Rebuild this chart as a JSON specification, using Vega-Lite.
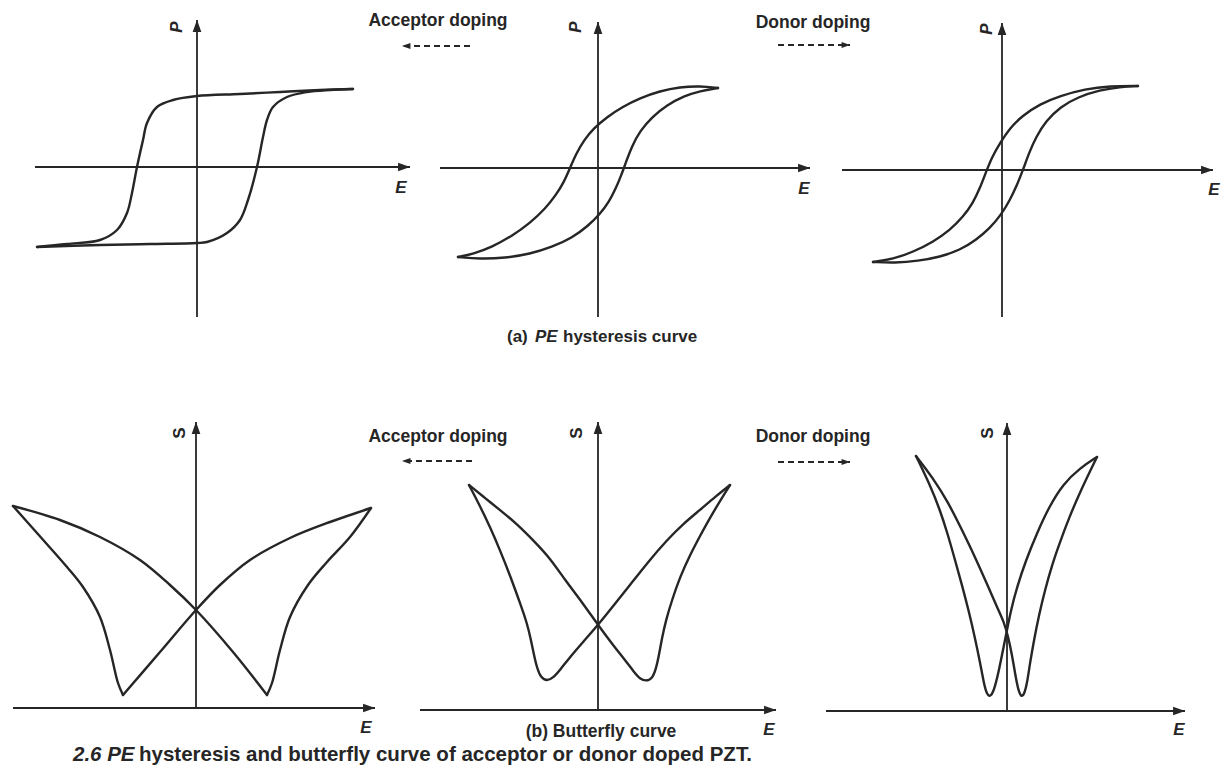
{
  "$schema": "https://vega.github.io/schema/vega-lite/v6.json",
  "width": 1225,
  "height": 775,
  "autosize": {"type": "fit", "contains": "padding"},
  "padding": 0,
  "background": "white",
  "config": {"view": {"stroke": null}},
  "datasets": {
    "curves": [
      {"series": "p1 upper", "i": 0, "x": 353, "y": 89}, {"series": "p1 upper", "i": 1, "x": 320, "y": 90}, {"series": "p1 upper", "i": 2, "x": 280, "y": 92}, {"series": "p1 upper", "i": 3, "x": 240, "y": 94}, {"series": "p1 upper", "i": 4, "x": 197, "y": 96}, {"series": "p1 upper", "i": 5, "x": 173, "y": 100}, {"series": "p1 upper", "i": 6, "x": 157, "y": 107}, {"series": "p1 upper", "i": 7, "x": 147, "y": 123}, {"series": "p1 upper", "i": 8, "x": 143, "y": 140}, {"series": "p1 upper", "i": 9, "x": 137, "y": 167}, {"series": "p1 upper", "i": 10, "x": 132, "y": 193}, {"series": "p1 upper", "i": 11, "x": 127, "y": 213}, {"series": "p1 upper", "i": 12, "x": 117, "y": 230}, {"series": "p1 upper", "i": 13, "x": 100, "y": 240}, {"series": "p1 upper", "i": 14, "x": 67, "y": 244}, {"series": "p1 upper", "i": 15, "x": 37, "y": 247},
      {"series": "p1 lower", "i": 0, "x": 37, "y": 247}, {"series": "p1 lower", "i": 1, "x": 100, "y": 245}, {"series": "p1 lower", "i": 2, "x": 150, "y": 244}, {"series": "p1 lower", "i": 3, "x": 197, "y": 243}, {"series": "p1 lower", "i": 4, "x": 207, "y": 242}, {"series": "p1 lower", "i": 5, "x": 227, "y": 233}, {"series": "p1 lower", "i": 6, "x": 240, "y": 220}, {"series": "p1 lower", "i": 7, "x": 248, "y": 200}, {"series": "p1 lower", "i": 8, "x": 257, "y": 167}, {"series": "p1 lower", "i": 9, "x": 263, "y": 137}, {"series": "p1 lower", "i": 10, "x": 267, "y": 120}, {"series": "p1 lower", "i": 11, "x": 273, "y": 107}, {"series": "p1 lower", "i": 12, "x": 287, "y": 97}, {"series": "p1 lower", "i": 13, "x": 307, "y": 92}, {"series": "p1 lower", "i": 14, "x": 330, "y": 90}, {"series": "p1 lower", "i": 15, "x": 353, "y": 89},
      {"series": "p4 a", "i": 0, "x": 13, "y": 506}, {"series": "p4 a", "i": 1, "x": 60, "y": 520}, {"series": "p4 a", "i": 2, "x": 100, "y": 537}, {"series": "p4 a", "i": 3, "x": 140, "y": 560}, {"series": "p4 a", "i": 4, "x": 170, "y": 585}, {"series": "p4 a", "i": 5, "x": 196, "y": 610}, {"series": "p4 a", "i": 6, "x": 233, "y": 652}, {"series": "p4 a", "i": 7, "x": 267, "y": 695},
      {"series": "p4 b", "i": 0, "x": 267, "y": 695}, {"series": "p4 b", "i": 1, "x": 272, "y": 683}, {"series": "p4 b", "i": 2, "x": 280, "y": 650}, {"series": "p4 b", "i": 3, "x": 290, "y": 617}, {"series": "p4 b", "i": 4, "x": 308, "y": 585}, {"series": "p4 b", "i": 5, "x": 327, "y": 562}, {"series": "p4 b", "i": 6, "x": 350, "y": 537}, {"series": "p4 b", "i": 7, "x": 371, "y": 508},
      {"series": "p4 c", "i": 0, "x": 371, "y": 508}, {"series": "p4 c", "i": 1, "x": 330, "y": 522}, {"series": "p4 c", "i": 2, "x": 290, "y": 538}, {"series": "p4 c", "i": 3, "x": 250, "y": 560}, {"series": "p4 c", "i": 4, "x": 220, "y": 585}, {"series": "p4 c", "i": 5, "x": 196, "y": 610}, {"series": "p4 c", "i": 6, "x": 160, "y": 652}, {"series": "p4 c", "i": 7, "x": 123, "y": 695},
      {"series": "p4 d", "i": 0, "x": 123, "y": 695}, {"series": "p4 d", "i": 1, "x": 118, "y": 683}, {"series": "p4 d", "i": 2, "x": 110, "y": 650}, {"series": "p4 d", "i": 3, "x": 100, "y": 617}, {"series": "p4 d", "i": 4, "x": 83, "y": 587}, {"series": "p4 d", "i": 5, "x": 67, "y": 567}, {"series": "p4 d", "i": 6, "x": 37, "y": 533}, {"series": "p4 d", "i": 7, "x": 13, "y": 506}
    ],
    "smoothCurves": [
      {"series": "p2 upper", "i": 0, "x": 718, "y": 88}, {"series": "p2 upper", "i": 1, "x": 700, "y": 86}, {"series": "p2 upper", "i": 2, "x": 680, "y": 87}, {"series": "p2 upper", "i": 3, "x": 660, "y": 91}, {"series": "p2 upper", "i": 4, "x": 640, "y": 98}, {"series": "p2 upper", "i": 5, "x": 622, "y": 107}, {"series": "p2 upper", "i": 6, "x": 607, "y": 117}, {"series": "p2 upper", "i": 7, "x": 594, "y": 128}, {"series": "p2 upper", "i": 8, "x": 584, "y": 140}, {"series": "p2 upper", "i": 9, "x": 576, "y": 154}, {"series": "p2 upper", "i": 10, "x": 570, "y": 168}, {"series": "p2 upper", "i": 11, "x": 564, "y": 182}, {"series": "p2 upper", "i": 12, "x": 556, "y": 195}, {"series": "p2 upper", "i": 13, "x": 545, "y": 209}, {"series": "p2 upper", "i": 14, "x": 530, "y": 223}, {"series": "p2 upper", "i": 15, "x": 512, "y": 236}, {"series": "p2 upper", "i": 16, "x": 492, "y": 247}, {"series": "p2 upper", "i": 17, "x": 473, "y": 254}, {"series": "p2 upper", "i": 18, "x": 458, "y": 257},
      {"series": "p2 lower", "i": 0, "x": 458, "y": 257}, {"series": "p2 lower", "i": 1, "x": 480, "y": 259}, {"series": "p2 lower", "i": 2, "x": 505, "y": 258}, {"series": "p2 lower", "i": 3, "x": 530, "y": 254}, {"series": "p2 lower", "i": 4, "x": 552, "y": 247}, {"series": "p2 lower", "i": 5, "x": 572, "y": 238}, {"series": "p2 lower", "i": 6, "x": 588, "y": 226}, {"series": "p2 lower", "i": 7, "x": 600, "y": 214}, {"series": "p2 lower", "i": 8, "x": 609, "y": 202}, {"series": "p2 lower", "i": 9, "x": 616, "y": 188}, {"series": "p2 lower", "i": 10, "x": 621, "y": 176}, {"series": "p2 lower", "i": 11, "x": 626, "y": 162}, {"series": "p2 lower", "i": 12, "x": 632, "y": 146}, {"series": "p2 lower", "i": 13, "x": 640, "y": 131}, {"series": "p2 lower", "i": 14, "x": 652, "y": 117}, {"series": "p2 lower", "i": 15, "x": 667, "y": 105}, {"series": "p2 lower", "i": 16, "x": 684, "y": 96}, {"series": "p2 lower", "i": 17, "x": 700, "y": 91}, {"series": "p2 lower", "i": 18, "x": 718, "y": 88},
      {"series": "p3 upper", "i": 0, "x": 1138, "y": 86}, {"series": "p3 upper", "i": 1, "x": 1110, "y": 86}, {"series": "p3 upper", "i": 2, "x": 1085, "y": 89}, {"series": "p3 upper", "i": 3, "x": 1060, "y": 96}, {"series": "p3 upper", "i": 4, "x": 1040, "y": 104}, {"series": "p3 upper", "i": 5, "x": 1022, "y": 116}, {"series": "p3 upper", "i": 6, "x": 1010, "y": 128}, {"series": "p3 upper", "i": 7, "x": 1000, "y": 143}, {"series": "p3 upper", "i": 8, "x": 992, "y": 157}, {"series": "p3 upper", "i": 9, "x": 986, "y": 172}, {"series": "p3 upper", "i": 10, "x": 980, "y": 188}, {"series": "p3 upper", "i": 11, "x": 973, "y": 203}, {"series": "p3 upper", "i": 12, "x": 963, "y": 217}, {"series": "p3 upper", "i": 13, "x": 950, "y": 230}, {"series": "p3 upper", "i": 14, "x": 933, "y": 242}, {"series": "p3 upper", "i": 15, "x": 913, "y": 252}, {"series": "p3 upper", "i": 16, "x": 893, "y": 259}, {"series": "p3 upper", "i": 17, "x": 873, "y": 262},
      {"series": "p3 lower", "i": 0, "x": 873, "y": 262}, {"series": "p3 lower", "i": 1, "x": 895, "y": 263}, {"series": "p3 lower", "i": 2, "x": 918, "y": 261}, {"series": "p3 lower", "i": 3, "x": 940, "y": 257}, {"series": "p3 lower", "i": 4, "x": 960, "y": 250}, {"series": "p3 lower", "i": 5, "x": 976, "y": 240}, {"series": "p3 lower", "i": 6, "x": 990, "y": 228}, {"series": "p3 lower", "i": 7, "x": 1001, "y": 215}, {"series": "p3 lower", "i": 8, "x": 1010, "y": 200}, {"series": "p3 lower", "i": 9, "x": 1017, "y": 185}, {"series": "p3 lower", "i": 10, "x": 1023, "y": 170}, {"series": "p3 lower", "i": 11, "x": 1029, "y": 153}, {"series": "p3 lower", "i": 12, "x": 1036, "y": 137}, {"series": "p3 lower", "i": 13, "x": 1046, "y": 121}, {"series": "p3 lower", "i": 14, "x": 1060, "y": 107}, {"series": "p3 lower", "i": 15, "x": 1078, "y": 97}, {"series": "p3 lower", "i": 16, "x": 1100, "y": 90}, {"series": "p3 lower", "i": 17, "x": 1120, "y": 87}, {"series": "p3 lower", "i": 18, "x": 1138, "y": 86},
      {"series": "p5 a", "i": 0, "x": 469, "y": 485}, {"series": "p5 a", "i": 1, "x": 485, "y": 498}, {"series": "p5 a", "i": 2, "x": 500, "y": 510}, {"series": "p5 a", "i": 3, "x": 517, "y": 524}, {"series": "p5 a", "i": 4, "x": 533, "y": 540}, {"series": "p5 a", "i": 5, "x": 550, "y": 558}, {"series": "p5 a", "i": 6, "x": 565, "y": 580}, {"series": "p5 a", "i": 7, "x": 582, "y": 602}, {"series": "p5 a", "i": 8, "x": 598, "y": 625}, {"series": "p5 a", "i": 9, "x": 613, "y": 645}, {"series": "p5 a", "i": 10, "x": 625, "y": 660}, {"series": "p5 a", "i": 11, "x": 634, "y": 672}, {"series": "p5 a", "i": 12, "x": 640, "y": 679}, {"series": "p5 a", "i": 13, "x": 646, "y": 681}, {"series": "p5 a", "i": 14, "x": 652, "y": 679}, {"series": "p5 a", "i": 15, "x": 656, "y": 669}, {"series": "p5 a", "i": 16, "x": 659, "y": 655}, {"series": "p5 a", "i": 17, "x": 662, "y": 638}, {"series": "p5 a", "i": 18, "x": 666, "y": 620}, {"series": "p5 a", "i": 19, "x": 672, "y": 600}, {"series": "p5 a", "i": 20, "x": 680, "y": 577}, {"series": "p5 a", "i": 21, "x": 690, "y": 555}, {"series": "p5 a", "i": 22, "x": 700, "y": 536}, {"series": "p5 a", "i": 23, "x": 712, "y": 514}, {"series": "p5 a", "i": 24, "x": 730, "y": 485},
      {"series": "p5 b", "i": 0, "x": 730, "y": 485}, {"series": "p5 b", "i": 1, "x": 715, "y": 497}, {"series": "p5 b", "i": 2, "x": 700, "y": 510}, {"series": "p5 b", "i": 3, "x": 683, "y": 524}, {"series": "p5 b", "i": 4, "x": 667, "y": 540}, {"series": "p5 b", "i": 5, "x": 648, "y": 562}, {"series": "p5 b", "i": 6, "x": 630, "y": 585}, {"series": "p5 b", "i": 7, "x": 614, "y": 605}, {"series": "p5 b", "i": 8, "x": 598, "y": 625}, {"series": "p5 b", "i": 9, "x": 583, "y": 642}, {"series": "p5 b", "i": 10, "x": 570, "y": 657}, {"series": "p5 b", "i": 11, "x": 560, "y": 670}, {"series": "p5 b", "i": 12, "x": 553, "y": 678}, {"series": "p5 b", "i": 13, "x": 547, "y": 681}, {"series": "p5 b", "i": 14, "x": 541, "y": 678}, {"series": "p5 b", "i": 15, "x": 537, "y": 668}, {"series": "p5 b", "i": 16, "x": 534, "y": 655}, {"series": "p5 b", "i": 17, "x": 531, "y": 640}, {"series": "p5 b", "i": 18, "x": 527, "y": 623}, {"series": "p5 b", "i": 19, "x": 520, "y": 603}, {"series": "p5 b", "i": 20, "x": 511, "y": 578}, {"series": "p5 b", "i": 21, "x": 500, "y": 550}, {"series": "p5 b", "i": 22, "x": 490, "y": 527}, {"series": "p5 b", "i": 23, "x": 480, "y": 506}, {"series": "p5 b", "i": 24, "x": 469, "y": 485},
      {"series": "p6 a", "i": 0, "x": 916, "y": 456}, {"series": "p6 a", "i": 1, "x": 933, "y": 478}, {"series": "p6 a", "i": 2, "x": 948, "y": 502}, {"series": "p6 a", "i": 3, "x": 962, "y": 530}, {"series": "p6 a", "i": 4, "x": 975, "y": 557}, {"series": "p6 a", "i": 5, "x": 987, "y": 584}, {"series": "p6 a", "i": 6, "x": 997, "y": 607}, {"series": "p6 a", "i": 7, "x": 1004, "y": 622}, {"series": "p6 a", "i": 8, "x": 1008, "y": 636}, {"series": "p6 a", "i": 9, "x": 1012, "y": 655}, {"series": "p6 a", "i": 10, "x": 1015, "y": 673}, {"series": "p6 a", "i": 11, "x": 1018, "y": 689}, {"series": "p6 a", "i": 12, "x": 1021, "y": 697}, {"series": "p6 a", "i": 13, "x": 1024, "y": 695}, {"series": "p6 a", "i": 14, "x": 1027, "y": 684}, {"series": "p6 a", "i": 15, "x": 1030, "y": 663}, {"series": "p6 a", "i": 16, "x": 1034, "y": 640}, {"series": "p6 a", "i": 17, "x": 1039, "y": 615}, {"series": "p6 a", "i": 18, "x": 1045, "y": 590}, {"series": "p6 a", "i": 19, "x": 1052, "y": 565}, {"series": "p6 a", "i": 20, "x": 1060, "y": 542}, {"series": "p6 a", "i": 21, "x": 1069, "y": 518}, {"series": "p6 a", "i": 22, "x": 1080, "y": 492}, {"series": "p6 a", "i": 23, "x": 1097, "y": 457},
      {"series": "p6 b", "i": 0, "x": 1097, "y": 457}, {"series": "p6 b", "i": 1, "x": 1080, "y": 468}, {"series": "p6 b", "i": 2, "x": 1063, "y": 484}, {"series": "p6 b", "i": 3, "x": 1049, "y": 507}, {"series": "p6 b", "i": 4, "x": 1037, "y": 533}, {"series": "p6 b", "i": 5, "x": 1026, "y": 560}, {"series": "p6 b", "i": 6, "x": 1017, "y": 587}, {"series": "p6 b", "i": 7, "x": 1011, "y": 610}, {"series": "p6 b", "i": 8, "x": 1007, "y": 630}, {"series": "p6 b", "i": 9, "x": 1003, "y": 650}, {"series": "p6 b", "i": 10, "x": 999, "y": 670}, {"series": "p6 b", "i": 11, "x": 995, "y": 687}, {"series": "p6 b", "i": 12, "x": 991, "y": 697}, {"series": "p6 b", "i": 13, "x": 987, "y": 695}, {"series": "p6 b", "i": 14, "x": 984, "y": 684}, {"series": "p6 b", "i": 15, "x": 980, "y": 662}, {"series": "p6 b", "i": 16, "x": 975, "y": 638}, {"series": "p6 b", "i": 17, "x": 969, "y": 612}, {"series": "p6 b", "i": 18, "x": 962, "y": 585}, {"series": "p6 b", "i": 19, "x": 955, "y": 560}, {"series": "p6 b", "i": 20, "x": 948, "y": 535}, {"series": "p6 b", "i": 21, "x": 940, "y": 510}, {"series": "p6 b", "i": 22, "x": 930, "y": 485}, {"series": "p6 b", "i": 23, "x": 916, "y": 456}
    ],
    "axes": [
      {"panel": "p1", "dir": "up", "x": 197, "y": 317, "x2": 197, "y2": 20},
      {"panel": "p1", "dir": "right", "x": 35, "y": 167, "x2": 410, "y2": 167},
      {"panel": "p2", "dir": "up", "x": 598, "y": 317, "x2": 598, "y2": 22},
      {"panel": "p2", "dir": "right", "x": 440, "y": 168, "x2": 810, "y2": 168},
      {"panel": "p3", "dir": "up", "x": 1002, "y": 317, "x2": 1002, "y2": 23},
      {"panel": "p3", "dir": "right", "x": 842, "y": 170, "x2": 1213, "y2": 170},
      {"panel": "p4", "dir": "up", "x": 196, "y": 708, "x2": 196, "y2": 422},
      {"panel": "p4", "dir": "right", "x": 13, "y": 708, "x2": 375, "y2": 708},
      {"panel": "p5", "dir": "up", "x": 598, "y": 710, "x2": 598, "y2": 422},
      {"panel": "p5", "dir": "right", "x": 420, "y": 710, "x2": 776, "y2": 710},
      {"panel": "p6", "dir": "up", "x": 1007, "y": 711, "x2": 1007, "y2": 423},
      {"panel": "p6", "dir": "right", "x": 826, "y": 711, "x2": 1185, "y2": 711}
    ],
    "doping": [
      {"label": "Acceptor doping", "dir": "left", "x": 470, "x2": 402, "y": 46},
      {"label": "Donor doping", "dir": "right", "x": 778, "x2": 850, "y": 45},
      {"label": "Acceptor doping", "dir": "left", "x": 472, "x2": 402, "y": 461},
      {"label": "Donor doping", "dir": "right", "x": 778, "x2": 850, "y": 462}
    ],
    "labels": [
      {"kind": "P", "text": "P", "x": 177, "y": 27},
      {"kind": "P", "text": "P", "x": 576, "y": 27},
      {"kind": "P", "text": "P", "x": 987, "y": 29},
      {"kind": "S", "text": "S", "x": 180, "y": 433},
      {"kind": "S", "text": "S", "x": 577, "y": 433},
      {"kind": "S", "text": "S", "x": 988, "y": 433},
      {"kind": "E", "text": "E", "x": 401, "y": 188},
      {"kind": "E", "text": "E", "x": 804, "y": 189},
      {"kind": "E", "text": "E", "x": 1214, "y": 190},
      {"kind": "E", "text": "E", "x": 366, "y": 728},
      {"kind": "E", "text": "E", "x": 769, "y": 730},
      {"kind": "E", "text": "E", "x": 1179, "y": 730},
      {"kind": "heading", "text": "Acceptor doping", "x": 438, "y": 26},
      {"kind": "heading", "text": "Donor doping", "x": 813, "y": 28},
      {"kind": "heading", "text": "Acceptor doping", "x": 438, "y": 442},
      {"kind": "heading", "text": "Donor doping", "x": 813, "y": 442},
      {"kind": "heading", "text": "(b) Butterfly curve", "x": 601, "y": 737},
      {"kind": "sub", "text": "(a)", "x": 507, "y": 342},
      {"kind": "subItalic", "text": "PE", "x": 535, "y": 342},
      {"kind": "sub", "text": "hysteresis curve", "x": 563, "y": 342},
      {"kind": "captionItalic", "text": "2.6 PE", "x": 73, "y": 761},
      {"kind": "caption", "text": "hysteresis and butterfly curve of acceptor or donor doped PZT.", "x": 139, "y": 761}
    ]
  },
  "encoding": {
    "x": {"field": "x", "type": "quantitative", "scale": {"domain": [0, 1225], "nice": false, "zero": false}, "axis": null},
    "y": {"field": "y", "type": "quantitative", "scale": {"domain": [0, 775], "nice": false, "zero": false, "reverse": true}, "axis": null}
  },
  "layer": [
    {
      "data": {"name": "axes"},
      "mark": {"type": "rule", "color": "#262626", "strokeWidth": 1.8},
      "encoding": {"x2": {"field": "x2"}, "y2": {"field": "y2"}}
    },
    {
      "data": {"name": "axes"},
      "transform": [{"filter": "datum.dir === 'up'"}],
      "mark": {"type": "point", "shape": "M0,-1L0.5,0.4L-0.5,0.4Z", "size": 300, "filled": true, "color": "#262626", "opacity": 1, "yOffset": 8.5},
      "encoding": {"x": {"field": "x2", "type": "quantitative"}, "y": {"field": "y2", "type": "quantitative"}}
    },
    {
      "data": {"name": "axes"},
      "transform": [{"filter": "datum.dir === 'right'"}],
      "mark": {"type": "point", "shape": "M1,0L-0.4,0.5L-0.4,-0.5Z", "size": 300, "filled": true, "color": "#262626", "opacity": 1, "xOffset": -8.5},
      "encoding": {"x": {"field": "x2", "type": "quantitative"}, "y": {"field": "y2", "type": "quantitative"}}
    },
    {
      "data": {"name": "doping"},
      "mark": {"type": "rule", "color": "#262626", "strokeWidth": 2, "strokeDash": [6, 4]},
      "encoding": {"x2": {"field": "x2"}}
    },
    {
      "data": {"name": "doping"},
      "transform": [{"filter": "datum.dir === 'left'"}],
      "mark": {"type": "point", "shape": "M-1,0L0.4,0.5L0.4,-0.5Z", "size": 150, "filled": true, "color": "#262626", "opacity": 1, "xOffset": 6},
      "encoding": {"x": {"field": "x2", "type": "quantitative"}}
    },
    {
      "data": {"name": "doping"},
      "transform": [{"filter": "datum.dir === 'right'"}],
      "mark": {"type": "point", "shape": "M1,0L-0.4,0.5L-0.4,-0.5Z", "size": 150, "filled": true, "color": "#262626", "opacity": 1, "xOffset": -6},
      "encoding": {"x": {"field": "x2", "type": "quantitative"}}
    },
    {
      "data": {"name": "curves"},
      "mark": {"type": "line", "interpolate": "catmull-rom", "color": "#262626", "strokeWidth": 2.4, "strokeJoin": "round", "strokeCap": "round"},
      "encoding": {"detail": {"field": "series", "type": "nominal"}, "order": {"field": "i", "type": "quantitative"}}
    },
    {
      "data": {"name": "smoothCurves"},
      "mark": {"type": "line", "interpolate": "basis", "color": "#262626", "strokeWidth": 2.4, "strokeJoin": "round", "strokeCap": "round"},
      "encoding": {"detail": {"field": "series", "type": "nominal"}, "order": {"field": "i", "type": "quantitative"}}
    },
    {
      "data": {"name": "labels"},
      "transform": [{"filter": "datum.kind === 'P'"}],
      "mark": {"type": "text", "angle": 270, "align": "center", "baseline": "middle", "font": "Liberation Sans", "fontSize": 17, "fontWeight": "bold", "fontStyle": "italic", "color": "#262626"},
      "encoding": {"text": {"field": "text"}}
    },
    {
      "data": {"name": "labels"},
      "transform": [{"filter": "datum.kind === 'S'"}],
      "mark": {"type": "text", "angle": 270, "align": "center", "baseline": "middle", "font": "Liberation Sans", "fontSize": 17, "fontWeight": "bold", "color": "#262626"},
      "encoding": {"text": {"field": "text"}}
    },
    {
      "data": {"name": "labels"},
      "transform": [{"filter": "datum.kind === 'E'"}],
      "mark": {"type": "text", "align": "center", "baseline": "middle", "font": "Liberation Sans", "fontSize": 17, "fontWeight": "bold", "fontStyle": "italic", "color": "#262626"},
      "encoding": {"text": {"field": "text"}}
    },
    {
      "data": {"name": "labels"},
      "transform": [{"filter": "datum.kind === 'heading'"}],
      "mark": {"type": "text", "align": "center", "baseline": "alphabetic", "font": "Liberation Sans", "fontSize": 17.5, "fontWeight": "bold", "color": "#262626"},
      "encoding": {"text": {"field": "text"}}
    },
    {
      "data": {"name": "labels"},
      "transform": [{"filter": "datum.kind === 'sub'"}],
      "mark": {"type": "text", "align": "left", "baseline": "alphabetic", "font": "Liberation Sans", "fontSize": 17, "fontWeight": "bold", "color": "#262626"},
      "encoding": {"text": {"field": "text"}}
    },
    {
      "data": {"name": "labels"},
      "transform": [{"filter": "datum.kind === 'subItalic'"}],
      "mark": {"type": "text", "align": "left", "baseline": "alphabetic", "font": "Liberation Sans", "fontSize": 17, "fontWeight": "bold", "fontStyle": "italic", "color": "#262626"},
      "encoding": {"text": {"field": "text"}}
    },
    {
      "data": {"name": "labels"},
      "transform": [{"filter": "datum.kind === 'caption'"}],
      "mark": {"type": "text", "align": "left", "baseline": "alphabetic", "font": "Liberation Sans", "fontSize": 20.5, "fontWeight": "bold", "color": "#262626"},
      "encoding": {"text": {"field": "text"}}
    },
    {
      "data": {"name": "labels"},
      "transform": [{"filter": "datum.kind === 'captionItalic'"}],
      "mark": {"type": "text", "align": "left", "baseline": "alphabetic", "font": "Liberation Sans", "fontSize": 20.5, "fontWeight": "bold", "fontStyle": "italic", "color": "#262626"},
      "encoding": {"text": {"field": "text"}}
    }
  ]
}
